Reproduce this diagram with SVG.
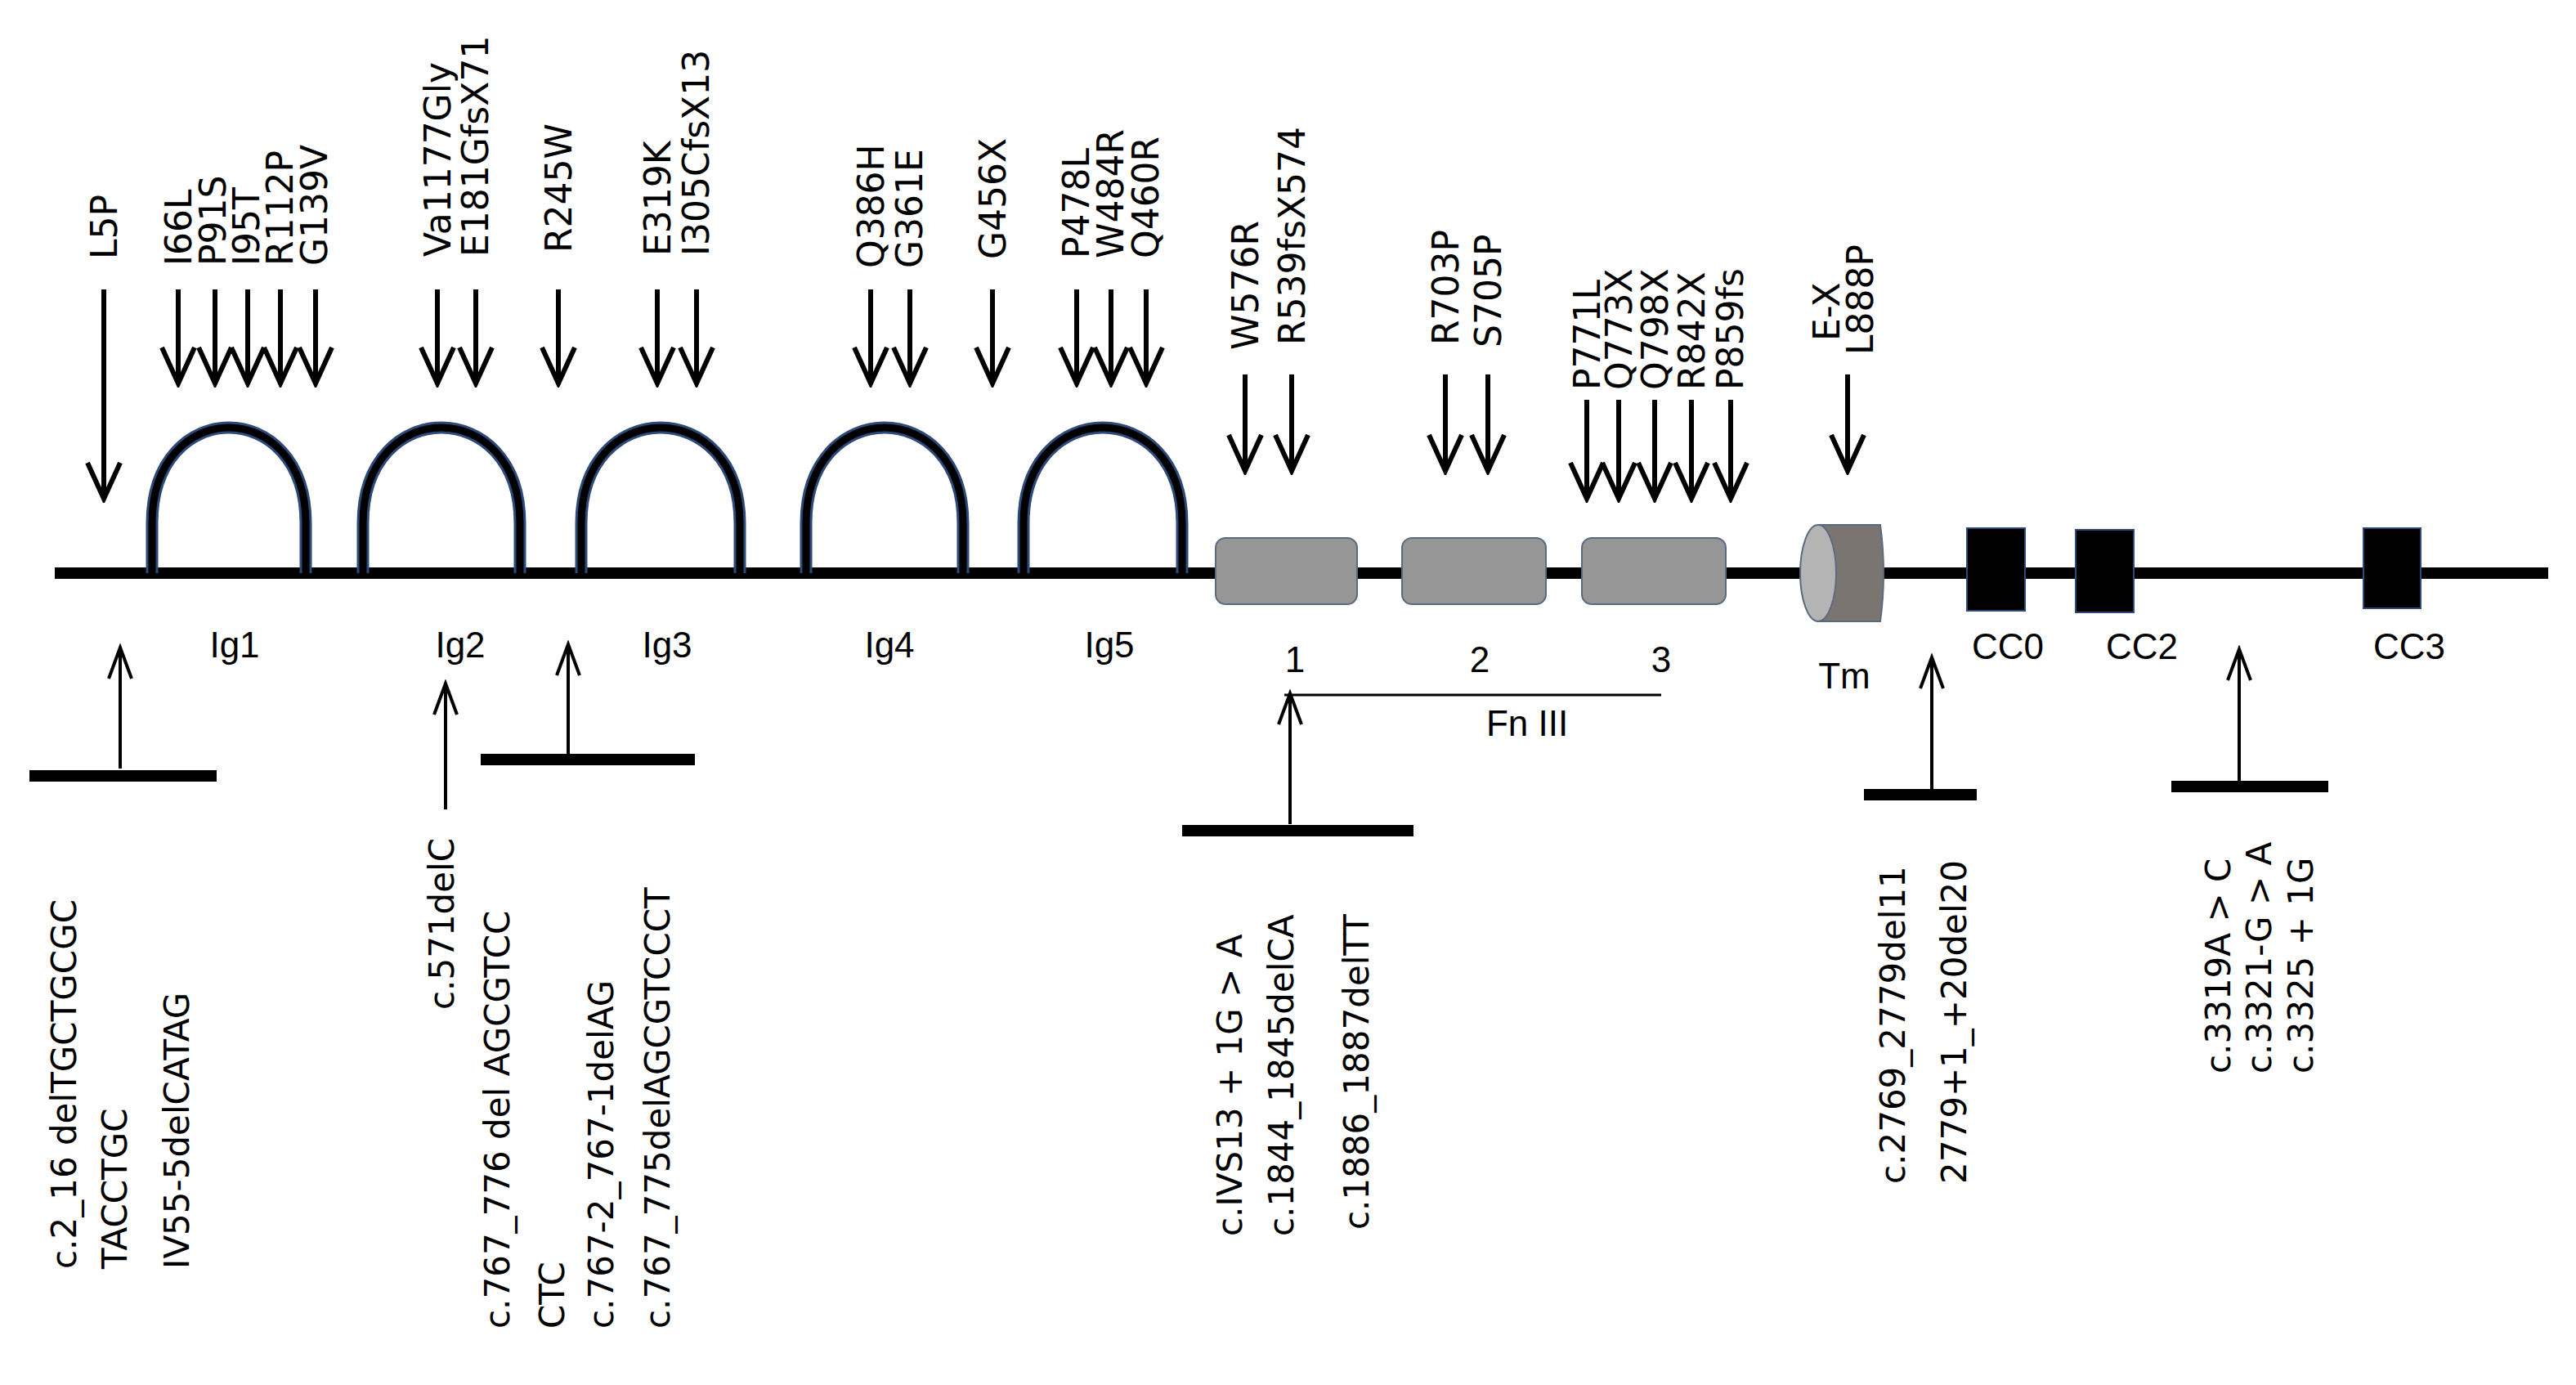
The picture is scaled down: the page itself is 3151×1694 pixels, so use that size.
<svg xmlns="http://www.w3.org/2000/svg" width="3151" height="1694" viewBox="0 0 3151 1694">
<style>
.t{font-family:"DejaVu Sans",sans-serif;font-size:44px;fill:#000}
.b{font-family:"DejaVu Sans",sans-serif;font-size:42px;fill:#000}
.l{font-family:"Liberation Sans Narrow","Liberation Sans",sans-serif;font-size:44px;fill:#000;text-anchor:middle}
.dn{stroke:#000;stroke-width:6;fill:none;marker-end:url(#hd)}
.up{stroke:#000;stroke-width:4;fill:none;marker-end:url(#hu)}
.bar{stroke:#000;stroke-width:14}
.hump{fill:none;stroke:#2e4a7a;stroke-width:15}
.humpi{fill:none;stroke:#000;stroke-width:9}
.fn{fill:#969696;stroke:#5a6a80;stroke-width:2}
.cc{fill:#000;stroke:#2e4a7a;stroke-width:2}
</style>
<defs>
<marker id="hd" markerUnits="userSpaceOnUse" viewBox="-50 -25 55 50" refX="0" refY="0" markerWidth="55" markerHeight="50" orient="auto"><path d="M-44,-20 L0,0 L-44,20" fill="none" stroke="#000" stroke-width="6"/></marker>
<marker id="hu" markerUnits="userSpaceOnUse" viewBox="-45 -20 50 40" refX="0" refY="0" markerWidth="50" markerHeight="40" orient="auto"><path d="M-38,-14 L0,0 L-38,14" fill="none" stroke="#000" stroke-width="4"/></marker>
</defs>
<rect width="3151" height="1694" fill="#fff"/>
<g id="backbone">
<line x1="67" y1="701" x2="3117" y2="701" stroke="#000" stroke-width="14"/>
</g>
<g id="ig1"><path class="hump" d="M186,701 L186,640 C186,484 374,484 374,640 L374,701"/><path class="humpi" d="M186,701 L186,640 C186,484 374,484 374,640 L374,701"/><text class="l" x="287" y="804">Ig1</text></g>
<g id="ig2"><path class="hump" d="M444,701 L444,640 C444,484 636,484 636,640 L636,701"/><path class="humpi" d="M444,701 L444,640 C444,484 636,484 636,640 L636,701"/><text class="l" x="563" y="804">Ig2</text></g>
<g id="ig3"><path class="hump" d="M711,701 L711,640 C711,484 905,484 905,640 L905,701"/><path class="humpi" d="M711,701 L711,640 C711,484 905,484 905,640 L905,701"/><text class="l" x="816" y="804">Ig3</text></g>
<g id="ig4"><path class="hump" d="M986,701 L986,640 C986,484 1178,484 1178,640 L1178,701"/><path class="humpi" d="M986,701 L986,640 C986,484 1178,484 1178,640 L1178,701"/><text class="l" x="1088" y="804">Ig4</text></g>
<g id="ig5"><path class="hump" d="M1252,701 L1252,640 C1252,484 1446,484 1446,640 L1446,701"/><path class="humpi" d="M1252,701 L1252,640 C1252,484 1446,484 1446,640 L1446,701"/><text class="l" x="1357" y="804">Ig5</text></g>
<g id="fn1"><rect class="fn" x="1487" y="658" width="173" height="81" rx="12"/><text class="l" x="1584" y="822">1</text></g>
<g id="fn2"><rect class="fn" x="1715" y="658" width="176" height="81" rx="12"/><text class="l" x="1810" y="822">2</text></g>
<g id="fn3"><rect class="fn" x="1935" y="658" width="176" height="81" rx="12"/><text class="l" x="2032" y="822">3</text></g>
<g id="fn3label"><line x1="1571" y1="850" x2="2032" y2="850" stroke="#000" stroke-width="3"/><text class="l" x="1868" y="900">Fn III</text></g>
<g id="tm"><path d="M2224,642 L2300,642 Q2308,701 2300,760 L2224,760 Z" fill="#7a7570" stroke="#5a6a80" stroke-width="2"/><ellipse cx="2224" cy="701" rx="22" ry="59" fill="#b4b4b4" stroke="#5a6a80" stroke-width="2"/><text class="l" x="2256" y="842">Tm</text></g>
<g id="cc0"><rect class="cc" x="2406" y="646" width="71" height="101"/><text class="l" x="2456" y="806">CC0</text></g>
<g id="cc2"><rect class="cc" x="2539" y="648" width="71" height="101"/><text class="l" x="2620" y="806">CC2</text></g>
<g id="cc3"><rect class="cc" x="2891" y="646" width="70" height="98"/><text class="l" x="2947" y="806">CC3</text></g>
<g id="connectors">
<line class="dn" x1="127" y1="354" x2="127" y2="610"/>
<line class="dn" x1="218" y1="354" x2="218" y2="469"/>
<line class="dn" x1="263" y1="354" x2="263" y2="469"/>
<line class="dn" x1="303" y1="354" x2="303" y2="469"/>
<line class="dn" x1="343" y1="354" x2="343" y2="469"/>
<line class="dn" x1="386" y1="354" x2="386" y2="469"/>
<line class="dn" x1="535" y1="354" x2="535" y2="469"/>
<line class="dn" x1="582" y1="354" x2="582" y2="469"/>
<line class="dn" x1="683" y1="354" x2="683" y2="469"/>
<line class="dn" x1="804" y1="354" x2="804" y2="469"/>
<line class="dn" x1="852" y1="354" x2="852" y2="469"/>
<line class="dn" x1="1065" y1="354" x2="1065" y2="469"/>
<line class="dn" x1="1113" y1="354" x2="1113" y2="469"/>
<line class="dn" x1="1214" y1="354" x2="1214" y2="469"/>
<line class="dn" x1="1317" y1="354" x2="1317" y2="469"/>
<line class="dn" x1="1359" y1="354" x2="1359" y2="469"/>
<line class="dn" x1="1402" y1="354" x2="1402" y2="469"/>
<line class="dn" x1="1523" y1="458" x2="1523" y2="576"/>
<line class="dn" x1="1580" y1="458" x2="1580" y2="576"/>
<line class="dn" x1="1768" y1="458" x2="1768" y2="576"/>
<line class="dn" x1="1820" y1="458" x2="1820" y2="576"/>
<line class="dn" x1="1941" y1="489" x2="1941" y2="610"/>
<line class="dn" x1="1980" y1="489" x2="1980" y2="610"/>
<line class="dn" x1="2024" y1="489" x2="2024" y2="610"/>
<line class="dn" x1="2069" y1="489" x2="2069" y2="610"/>
<line class="dn" x1="2117" y1="489" x2="2117" y2="610"/>
<line class="dn" x1="2260" y1="458" x2="2260" y2="576"/>
<line class="up" x1="147" y1="940" x2="147" y2="792"/>
<line class="bar" x1="36" y1="949" x2="265" y2="949"/>
<line class="up" x1="545" y1="990" x2="545" y2="836"/>
<line class="up" x1="695" y1="933" x2="695" y2="788"/>
<line class="bar" x1="588" y1="929" x2="850" y2="929"/>
<line class="up" x1="1578" y1="1008" x2="1578" y2="848"/>
<line class="bar" x1="1446" y1="1016" x2="1729" y2="1016"/>
<line class="up" x1="2363" y1="966" x2="2363" y2="804"/>
<line class="bar" x1="2280" y1="972" x2="2418" y2="972"/>
<line class="up" x1="2739" y1="955" x2="2739" y2="794"/>
<line class="bar" x1="2656" y1="962" x2="2848" y2="962"/>
</g>
<g id="top-labels">
<text class="t" transform="translate(143,317) rotate(-90)">L5P</text>
<text class="t" transform="translate(234,325) rotate(-90)">I66L</text>
<text class="t" transform="translate(276,325) rotate(-90)">P91S</text>
<text class="t" transform="translate(317,325) rotate(-90)">I95T</text>
<text class="t" transform="translate(358,325) rotate(-90)">R112P</text>
<text class="t" transform="translate(400,325) rotate(-90)">G139V</text>
<text class="t" transform="translate(551,314) rotate(-90)">Va1177Gly</text>
<text class="t" transform="translate(597,314) rotate(-90)">E181GfsX71</text>
<text class="t" transform="translate(699,309) rotate(-90)">R245W</text>
<text class="t" transform="translate(820,313) rotate(-90)">E319K</text>
<text class="t" transform="translate(867,313) rotate(-90)">I305CfsX13</text>
<text class="t" transform="translate(1081,328) rotate(-90)">Q386H</text>
<text class="t" transform="translate(1128,328) rotate(-90)">G361E</text>
<text class="t" transform="translate(1230,317) rotate(-90)">G456X</text>
<text class="t" transform="translate(1332,316) rotate(-90)">P478L</text>
<text class="t" transform="translate(1374,316) rotate(-90)">W484R</text>
<text class="t" transform="translate(1417,316) rotate(-90)">Q460R</text>
<text class="t" transform="translate(1539,428) rotate(-90)">W576R</text>
<text class="t" transform="translate(1596,422) rotate(-90)">R539fsX574</text>
<text class="t" transform="translate(1784,422) rotate(-90)">R703P</text>
<text class="t" transform="translate(1836,425) rotate(-90)">S705P</text>
<text class="t" transform="translate(1957,477) rotate(-90)">P771L</text>
<text class="t" transform="translate(1996,477) rotate(-90)">Q773X</text>
<text class="t" transform="translate(2040,477) rotate(-90)">Q798X</text>
<text class="t" transform="translate(2085,477) rotate(-90)">R842X</text>
<text class="t" transform="translate(2132,477) rotate(-90)">P859fs</text>
<text class="t" transform="translate(2250,417) rotate(-90)">E-X</text>
<text class="t" transform="translate(2291,434) rotate(-90)">L888P</text>
</g>
<g id="bottom-labels">
<text class="b" transform="translate(93,1552) rotate(-90)">c.2_16 delTGCTGCGC</text>
<text class="b" transform="translate(155,1552) rotate(-90)">TACCTGC</text>
<text class="b" transform="translate(231,1552) rotate(-90)">IV55-5delCATAG</text>
<text class="b" transform="translate(555,1235) rotate(-90)">c.571delC</text>
<text class="b" transform="translate(623,1625) rotate(-90)">c.767_776 del AGCGTCC</text>
<text class="b" transform="translate(690,1625) rotate(-90)">CTC</text>
<text class="b" transform="translate(750,1625) rotate(-90)">c.767-2_767-1delAG</text>
<text class="b" transform="translate(819,1625) rotate(-90)">c.767_775delAGCGTCCCT</text>
<text class="b" transform="translate(1519,1512) rotate(-90)">c.IVS13 + 1G &gt; A</text>
<text class="b" transform="translate(1582,1512) rotate(-90)">c.1844_1845delCA</text>
<text class="b" transform="translate(1674,1504) rotate(-90)">c.1886_1887delTT</text>
<text class="b" transform="translate(2330,1448) rotate(-90)">c.2769_2779del11</text>
<text class="b" transform="translate(2405,1448) rotate(-90)">2779+1_+20del20</text>
<text class="b" transform="translate(2728,1313) rotate(-90)">c.3319A &gt; C</text>
<text class="b" transform="translate(2778,1313) rotate(-90)">c.3321-G &gt; A</text>
<text class="b" transform="translate(2829,1313) rotate(-90)">c.3325 + 1G</text>
</g>
</svg>
